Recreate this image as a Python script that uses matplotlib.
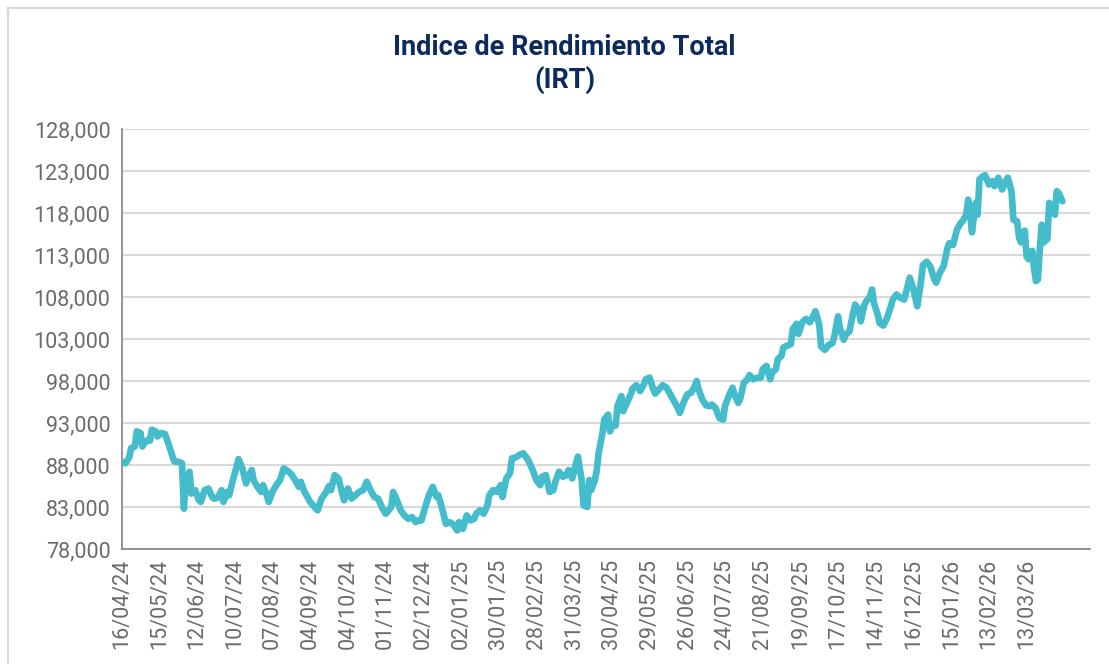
import matplotlib.pyplot as plt
from matplotlib.lines import Line2D
from matplotlib.ticker import FuncFormatter

plt.rcParams['font.family'] = ['Roboto', 'DejaVu Sans']

# business-day index since 16/04/24 and index level
day = [0, 2, 4, 5, 7, 8, 10, 11, 12, 14, 15, 16, 18, 19, 21, 23, 25, 27, 28, 30,
       32, 33, 34, 36, 37, 39, 41, 42, 44, 46, 48, 49, 51, 53, 54, 56, 57,
       59, 61, 62, 64, 66, 67, 69, 70, 72, 74, 75, 77, 78, 80, 82, 84, 86, 88,
       90, 92, 94, 95, 97, 98, 100, 103, 104, 106, 108, 110, 111, 113, 115, 117,
       118, 120, 122, 124, 126,
       128, 130, 132, 134, 136, 138, 140, 141, 143, 144, 146, 148, 150, 152, 154,
       156, 157, 159, 161, 163, 165, 167, 168, 170, 172, 174, 176, 178, 179, 181,
       183, 185, 187, 188, 190,
       192, 194, 195, 197, 199, 201, 202, 204, 206, 207, 209, 211, 213, 215, 216,
       218, 220, 222, 223, 225, 227, 229, 230, 232, 234, 236, 237, 239, 241, 242,
       244, 245, 247, 248, 249, 251,
       252, 253, 255, 256, 258, 259, 260, 262, 263, 265, 266, 268, 270, 271, 273,
       275, 277, 278, 280, 282, 283, 285, 287, 289, 290, 293, 295, 296, 298, 300,
       302, 304, 305, 306, 308, 310, 312, 313, 315, 317,
       319, 320, 322, 324, 325, 327, 328, 330, 332, 333, 335, 337, 339, 340, 342,
       344, 345, 347, 348, 350, 351, 353, 355, 356, 358, 359, 361, 363, 365, 367,
       368, 370, 371, 373, 375, 377, 378, 380, 381,
       383, 384, 386, 388, 389, 391, 392, 394, 395, 397, 398, 399, 401, 402, 404,
       406, 408, 409, 411, 413, 415, 416, 418, 420, 422, 424, 425, 427, 429, 431,
       432, 434, 436, 438, 439, 441, 443, 445,
       446, 448, 449, 450, 451, 453, 454, 455, 457, 458, 460, 462, 463, 465, 467,
       469, 470, 472, 473, 475, 476, 477, 479, 480, 481, 483, 484, 485, 486, 487,
       488, 489, 491, 492, 493, 495, 496, 497, 499]

irt = [88400, 88200, 88900, 90000, 90200, 92000, 91800, 90200, 90600, 91000,
       90900, 92200, 92000, 91400, 91800, 91700, 90400, 89000, 88400, 88400,
       88200, 82800, 86200, 87200, 84600, 85000, 83800, 83600, 85000, 85200,
       84200, 84000, 84100, 85000, 83600, 84800, 84400,
       86200, 87800, 88700, 87600, 85800, 86600, 87400, 86200, 85400, 84800,
       85600, 84400, 83600, 84800, 85600, 86200, 87600, 87300, 86900, 86200,
       85400, 86000, 84800, 84400, 83600, 82800, 82600, 84000, 84600, 85500,
       85000, 86800, 86400, 84600, 83800, 85200, 84000, 84400, 84800,
       85000, 86000, 85000, 84200, 84000, 83000, 82200, 82400, 83000, 84800,
       83800, 82600, 82000, 81600, 81800, 81200, 81400, 81400, 83000, 84400,
       85400, 84200, 84400, 82800, 81000, 81200, 80900, 80200, 81200, 80400,
       82000, 81400, 81600, 82200, 82600,
       82200, 83200, 84400, 85000, 84800, 85600, 84200, 86400, 87000, 88800,
       88900, 89200, 89400, 88800, 88400, 87400, 86200, 85600, 86600, 86800,
       84800, 85000, 86000, 87200, 86600, 86800, 87400, 86400, 88200, 89000,
       86200, 83200, 83000, 86200, 85000, 86200,
       87400, 89400, 91800, 93400, 94000, 92000, 92600, 92700, 95000, 96200,
       94400, 95400, 96400, 97100, 97500, 96800, 97600, 98200, 98400, 97000,
       96500, 97000, 97500, 97200, 96800, 95600, 94800, 94200, 95400, 96400,
       96600, 97400, 98000, 97000, 95800, 95100, 95000, 95200, 94800, 93600,
       93400, 95000, 96200, 97200, 96400, 95400, 95800, 97800, 98200, 98700,
       98200, 98400, 98400, 99400, 99800, 98200, 99000, 99400, 100600, 101000,
       102000, 102200, 102400, 104200, 104800, 103600, 105000, 105400, 105000,
       105800, 106300, 104700, 102100, 101700, 102300, 102500, 103300, 105700,
       104300,
       102900, 103500, 103900, 106100, 107100, 106500, 105100, 107100, 107500,
       108100, 108900, 107300, 105900, 104900, 104600, 105500, 106900, 107700,
       108300, 107900, 107700, 108500, 110300, 108900, 106900, 109900, 111800,
       112200, 111600, 110100, 109700, 110900, 111700, 113800, 114400, 114200,
       116000, 116800,
       117000, 117800, 119600, 118200, 115700, 119200, 117800, 122000, 122400,
       122500, 121400, 121800, 121200, 122200, 120800, 121800, 122200, 120600,
       117200, 117000, 115100, 114500, 115900, 112800, 112500, 113500, 111300,
       109900, 110100, 113700, 116600, 114500, 114900, 119200, 119000, 117800,
       120600, 120400, 119400]

tick_labels = ['16/04/24', '15/05/24', '12/06/24', '10/07/24', '07/08/24',
               '04/09/24', '04/10/24', '01/11/24', '02/12/24', '02/01/25',
               '30/01/25', '28/02/25', '31/03/25', '30/04/25', '29/05/25',
               '26/06/25', '24/07/25', '21/08/25', '19/09/25', '17/10/25',
               '14/11/25', '16/12/25', '15/01/26', '13/02/26', '13/03/26']
tick_step = 20

fig = plt.figure(figsize=(11.09, 6.64), dpi=100)
ax = fig.add_axes([0.1097, 0.1732, 0.8733, 0.6325])

ax.plot(day, irt, color='#44BCCB', linewidth=4.8, solid_joinstyle='round',
        solid_capstyle='round', zorder=3)

ax.set_ylim(78000, 128000)
ax.set_yticks(range(78000, 128001, 5000))
ax.yaxis.set_major_formatter(FuncFormatter(lambda v, p: f'{int(v):,}'))
ax.set_xlim(0, 513.7)
ax.set_xticks([i * tick_step for i in range(len(tick_labels))])
ax.set_xticklabels(tick_labels, rotation=90)

ax.grid(axis='y', color='#D9D9D9', linewidth=1.5, zorder=0)
ax.set_axisbelow(True)
for s in ['top', 'right']:
    ax.spines[s].set_visible(False)
for s in ['left', 'bottom']:
    ax.spines[s].set_color('#8C8C8C')
    ax.spines[s].set_linewidth(1.3)
ax.tick_params(length=0, labelsize=15.5, labelcolor='#6B6B6B')
ax.tick_params(axis='y', pad=8)
ax.tick_params(axis='x', pad=7)

fig.text(0.509, 0.929, 'Indice de Rendimiento Total', ha='center', va='center',
         fontsize=19.5, fontweight='bold', color='#0B2A5E')
fig.text(0.509, 0.879, '(IRT)', ha='center', va='center',
         fontsize=19.5, fontweight='bold', color='#0B2A5E')

# light frame around the chart area
fig.add_artist(Line2D([8 / 1109, 8 / 1109], [0, 1 - 8 / 664], transform=fig.transFigure,
                      color='#D9D9D9', linewidth=1.6))
fig.add_artist(Line2D([8 / 1109, 1], [1 - 8 / 664, 1 - 8 / 664], transform=fig.transFigure,
                      color='#D9D9D9', linewidth=1.6))

fig.savefig('out.png', dpi=100)
